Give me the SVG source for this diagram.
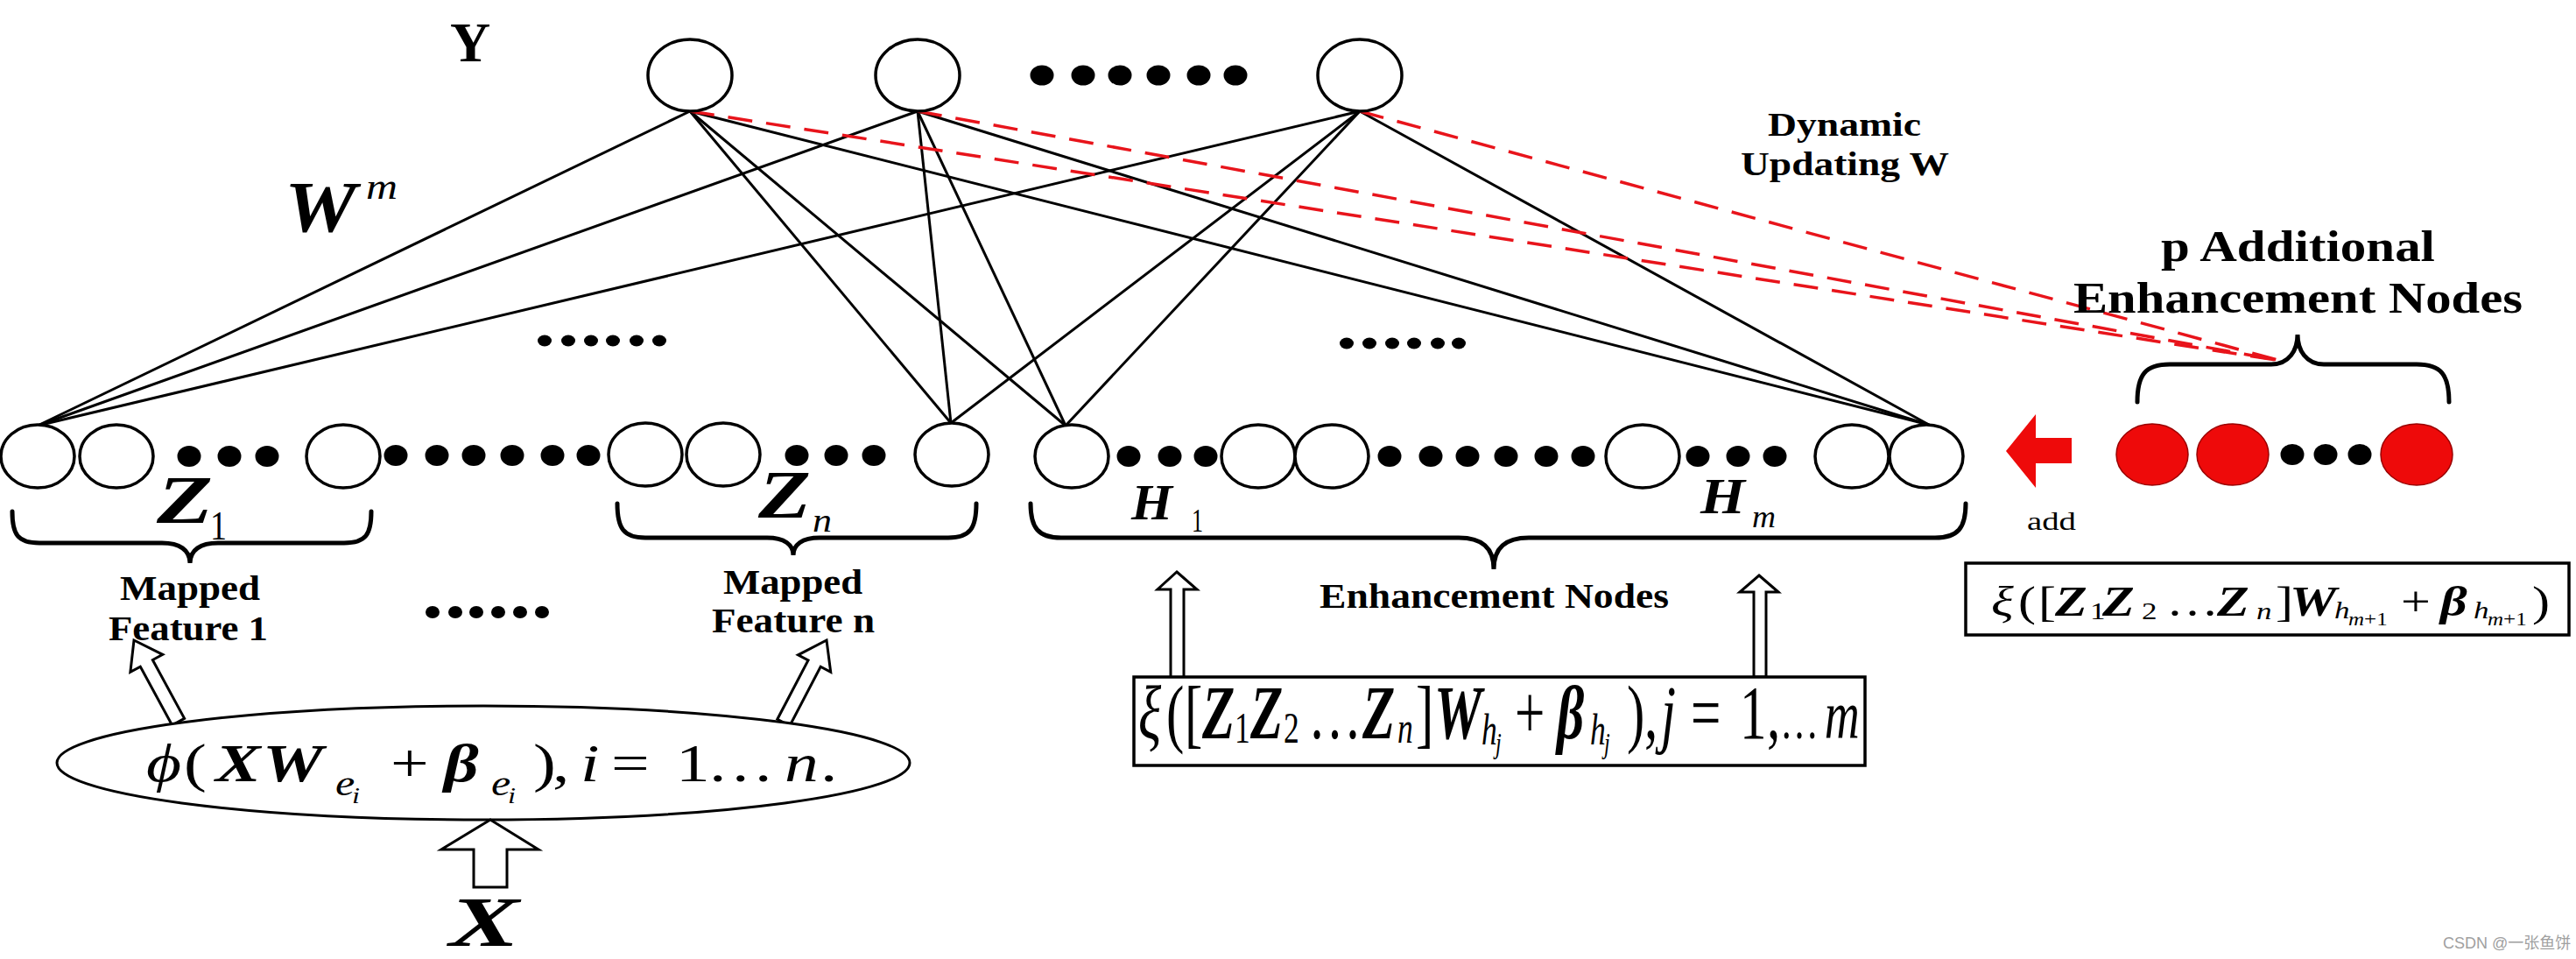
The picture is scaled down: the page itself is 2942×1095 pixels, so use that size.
<svg xmlns="http://www.w3.org/2000/svg" width="2942" height="1095" viewBox="0 0 2942 1095">
<style>
.n{fill:#fff;stroke:#000;stroke-width:3.5}
.r{fill:#ee0a0a;stroke:#9a0000;stroke-width:1.5}
.d{fill:#000}
.e{stroke:#000;stroke-width:3;fill:none}
.dash{stroke:#e8141b;stroke-width:3.5;stroke-dasharray:28 16;fill:none}
.br{fill:none;stroke:#000;stroke-width:5;stroke-linecap:round}
.hol{fill:#fff;stroke:#000;stroke-width:3;stroke-linejoin:miter}
text{font-family:"Liberation Serif","Times New Roman",serif;fill:#000}
.b{font-weight:bold}
.i{font-style:italic}
.bi{font-weight:bold;font-style:italic}
</style>

<g id="connectors">
<line class="e" x1="788" y1="127" x2="43" y2="486"/>
<line class="e" x1="1048" y1="127" x2="43" y2="486"/>
<line class="e" x1="1553" y1="127" x2="43" y2="486"/>
<line class="e" x1="788" y1="127" x2="1086" y2="483"/>
<line class="e" x1="1048" y1="127" x2="1086" y2="483"/>
<line class="e" x1="1553" y1="127" x2="1086" y2="483"/>
<line class="e" x1="788" y1="127" x2="1217" y2="486"/>
<line class="e" x1="1048" y1="127" x2="1217" y2="486"/>
<line class="e" x1="1553" y1="127" x2="1217" y2="486"/>
<line class="e" x1="788" y1="127" x2="2203" y2="485"/>
<line class="e" x1="1048" y1="127" x2="2203" y2="485"/>
<line class="e" x1="1553" y1="127" x2="2203" y2="485"/>
<line class="dash" x1="788" y1="127" x2="2605" y2="412"/>
<line class="dash" x1="1048" y1="127" x2="2605" y2="412"/>
<line class="dash" x1="1553" y1="127" x2="2605" y2="412"/>
</g>

<g id="output-nodes">
<ellipse class="n" cx="788" cy="86" rx="48" ry="41"/>
<ellipse class="n" cx="1048" cy="86" rx="48" ry="41"/>
<ellipse class="n" cx="1553" cy="86" rx="48" ry="41"/>
<ellipse class="d" cx="1190" cy="86" rx="13.5" ry="11.5"/>
<ellipse class="d" cx="1237" cy="86" rx="13.5" ry="11.5"/>
<ellipse class="d" cx="1279" cy="86" rx="13.5" ry="11.5"/>
<ellipse class="d" cx="1323" cy="86" rx="13.5" ry="11.5"/>
<ellipse class="d" cx="1369" cy="86" rx="13.5" ry="11.5"/>
<ellipse class="d" cx="1411" cy="86" rx="13.5" ry="11.5"/>
<text class="b" x="537" y="70" font-size="64" text-anchor="middle">Y</text>
</g>

<g id="weights-label">
<text class="bi" x="325" y="264" font-size="82" textLength="82" lengthAdjust="spacingAndGlyphs">W</text>
<text class="i" x="418" y="227" font-size="42" textLength="36" lengthAdjust="spacingAndGlyphs">m</text>
</g>

<g id="mid-dots">
<ellipse class="d" cx="622" cy="389" rx="8" ry="6.5"/>
<ellipse class="d" cx="649" cy="389" rx="8" ry="6.5"/>
<ellipse class="d" cx="675" cy="389" rx="8" ry="6.5"/>
<ellipse class="d" cx="700" cy="389" rx="8" ry="6.5"/>
<ellipse class="d" cx="727" cy="389" rx="8" ry="6.5"/>
<ellipse class="d" cx="753" cy="389" rx="8" ry="6.5"/>
<ellipse class="d" cx="1538" cy="392" rx="8" ry="6.5"/>
<ellipse class="d" cx="1564" cy="392" rx="8" ry="6.5"/>
<ellipse class="d" cx="1590" cy="392" rx="8" ry="6.5"/>
<ellipse class="d" cx="1615" cy="392" rx="8" ry="6.5"/>
<ellipse class="d" cx="1642" cy="392" rx="8" ry="6.5"/>
<ellipse class="d" cx="1666" cy="392" rx="8" ry="6.5"/>
</g>

<g id="mapped-feature-nodes">
<ellipse class="n" cx="43" cy="521" rx="42" ry="36"/>
<ellipse class="n" cx="133" cy="521" rx="42" ry="36"/>
<ellipse class="d" cx="216" cy="521" rx="13.5" ry="12"/>
<ellipse class="d" cx="262" cy="521" rx="13.5" ry="12"/>
<ellipse class="d" cx="305" cy="521" rx="13.5" ry="12"/>
<ellipse class="n" cx="392" cy="521" rx="42" ry="36"/>
<ellipse class="d" cx="452" cy="520" rx="13.5" ry="12"/>
<ellipse class="d" cx="499" cy="520" rx="13.5" ry="12"/>
<ellipse class="d" cx="541" cy="520" rx="13.5" ry="12"/>
<ellipse class="d" cx="585" cy="520" rx="13.5" ry="12"/>
<ellipse class="d" cx="631" cy="520" rx="13.5" ry="12"/>
<ellipse class="d" cx="672" cy="520" rx="13.5" ry="12"/>
<ellipse class="n" cx="737" cy="519" rx="42" ry="36"/>
<ellipse class="n" cx="826" cy="519" rx="42" ry="36"/>
<ellipse class="d" cx="910" cy="520" rx="13.5" ry="12"/>
<ellipse class="d" cx="955" cy="520" rx="13.5" ry="12"/>
<ellipse class="d" cx="998" cy="520" rx="13.5" ry="12"/>
<ellipse class="n" cx="1087" cy="519" rx="42" ry="36"/>
<path class="br" d="M14,584 C14,610 20,620 45,620 L185,620 C205,620 217,628 217,643 C217,628 229,620 249,620 L393,620 C418,620 424,610 424,584"/>
<path class="br" d="M705,575 C705,603 712,614 737,614 L876,614 C896,614 906,622 906,634 C906,622 916,614 936,614 L1083,614 C1108,614 1115,603 1115,575"/>
<text class="bi" x="179" y="597" font-size="78" textLength="64" lengthAdjust="spacingAndGlyphs">Z</text>
<text x="240" y="616" font-size="46" textLength="19" lengthAdjust="spacingAndGlyphs">1</text>
<text class="bi" x="866" y="591" font-size="78" textLength="60" lengthAdjust="spacingAndGlyphs">Z</text>
<text class="i" x="928" y="607" font-size="38" textLength="22" lengthAdjust="spacingAndGlyphs">n</text>
</g>

<g id="enhancement-nodes">
<ellipse class="n" cx="1224" cy="521" rx="42" ry="36"/>
<ellipse class="d" cx="1289" cy="521" rx="13.5" ry="12"/>
<ellipse class="d" cx="1336" cy="521" rx="13.5" ry="12"/>
<ellipse class="d" cx="1377" cy="521" rx="13.5" ry="12"/>
<ellipse class="n" cx="1437" cy="521" rx="42" ry="36"/>
<ellipse class="n" cx="1521" cy="521" rx="42" ry="36"/>
<ellipse class="d" cx="1587" cy="521" rx="13.5" ry="12"/>
<ellipse class="d" cx="1634" cy="521" rx="13.5" ry="12"/>
<ellipse class="d" cx="1676" cy="521" rx="13.5" ry="12"/>
<ellipse class="d" cx="1720" cy="521" rx="13.5" ry="12"/>
<ellipse class="d" cx="1766" cy="521" rx="13.5" ry="12"/>
<ellipse class="d" cx="1808" cy="521" rx="13.5" ry="12"/>
<ellipse class="n" cx="1876" cy="521" rx="42" ry="36"/>
<ellipse class="d" cx="1939" cy="521" rx="13.5" ry="12"/>
<ellipse class="d" cx="1985" cy="521" rx="13.5" ry="12"/>
<ellipse class="d" cx="2027" cy="521" rx="13.5" ry="12"/>
<ellipse class="n" cx="2115" cy="521" rx="42" ry="36"/>
<ellipse class="n" cx="2200" cy="521" rx="42" ry="36"/>
<path class="br" d="M1177,575 C1177,603 1186,614 1212,614 L1666,614 C1692,614 1706,625 1706,650 C1706,625 1720,614 1746,614 L2210,614 C2236,614 2245,603 2245,575"/>
<text class="bi" x="1292" y="593" font-size="56" textLength="47" lengthAdjust="spacingAndGlyphs">H</text>
<text x="1361" y="607" font-size="38" textLength="13" lengthAdjust="spacingAndGlyphs">1</text>
<text class="bi" x="1942" y="586" font-size="56" textLength="51" lengthAdjust="spacingAndGlyphs">H</text>
<text class="i" x="2001" y="602" font-size="36" textLength="27" lengthAdjust="spacingAndGlyphs">m</text>
<text class="b" x="1507" y="694" font-size="40" textLength="399" lengthAdjust="spacingAndGlyphs">Enhancement Nodes</text>
</g>

<g id="mapped-labels">
<text class="b" x="137" y="685" font-size="40" textLength="160" lengthAdjust="spacingAndGlyphs">Mapped</text>
<text class="b" x="124" y="731" font-size="40" textLength="182" lengthAdjust="spacingAndGlyphs">Feature 1</text>
<text class="b" x="826" y="678" font-size="40" textLength="159" lengthAdjust="spacingAndGlyphs">Mapped</text>
<text class="b" x="813" y="722" font-size="40" textLength="186" lengthAdjust="spacingAndGlyphs">Feature n</text>
<ellipse class="d" cx="494" cy="699" rx="8" ry="7"/>
<ellipse class="d" cx="520" cy="699" rx="8" ry="7"/>
<ellipse class="d" cx="544" cy="699" rx="8" ry="7"/>
<ellipse class="d" cx="569" cy="699" rx="8" ry="7"/>
<ellipse class="d" cx="594" cy="699" rx="8" ry="7"/>
<ellipse class="d" cx="619" cy="699" rx="8" ry="7"/>
</g>

<g id="mapping-function">
<polygon class="hol" transform="translate(153,731) rotate(-28.5)" points="0,0 21,30 8,30 8,106 -8,106 -8,30 -21,30"/>
<polygon class="hol" transform="translate(944,731) rotate(27.6)" points="0,0 21,30 8,30 8,106 -8,106 -8,30 -21,30"/>
<ellipse class="n" cx="552" cy="871" rx="487" ry="65" style="stroke-width:3"/>
<g transform="translate(167,892) scale(1.25,1)" font-size="62">
<text class="i" x="0" y="0">ϕ</text>
<text x="34.4" y="0">(</text>
<text class="bi" x="63.2" y="0">X</text>
<text class="bi" x="106.4" y="0">W</text>
<text class="i" x="172.8" y="16" font-size="40">e</text>
<text class="i" x="188" y="25" font-size="26">i</text>
<text x="223.2" y="0">+</text>
<text class="bi" x="272" y="0">β</text>
<text class="i" x="315.2" y="16" font-size="40">e</text>
<text class="i" x="330.4" y="25" font-size="26">i</text>
<text x="353.6" y="0">)</text>
<text x="371.2" y="0">,</text>
<text class="i" x="396.8" y="0">i</text>
<text x="424.8" y="0">=</text>
<text x="484" y="0">1</text>
<text x="512" y="0">…</text>
<text class="i" x="583.2" y="0">n</text>
<text x="616" y="0">.</text>
</g>
<polygon class="hol" points="560,936 615,970 579,970 579,1013 541,1013 541,970 504,970"/>
<text class="bi" x="513" y="1080" font-size="80" textLength="80" lengthAdjust="spacingAndGlyphs">X</text>
</g>

<g id="enhancement-function">
<polygon class="hol" points="1344,653 1367,673 1352,673 1352,774 1337,774 1337,673 1322,673"/>
<polygon class="hol" points="2009,657 2031,676 2017,676 2017,773 2003,773 2003,676 1987,676"/>
<rect x="1295" y="773" width="835" height="101" fill="#fff" stroke="#000" stroke-width="3.5"/>
<g transform="translate(1300,843) scale(0.71,1)" font-size="86">
<text class="i" x="0" y="0">ξ</text>
<text x="45.1" y="0">(</text>
<text x="74.6" y="0">[</text>
<text class="bi" x="102.8" y="0">Z</text>
<text x="154.9" y="5" font-size="50">1</text>
<text class="bi" x="180.3" y="0">Z</text>
<text x="233.8" y="5" font-size="50">2</text>
<text x="273.2" y="0">…</text>
<text class="bi" x="360.6" y="0">Z</text>
<text class="i" x="416.9" y="5" font-size="50">n</text>
<text x="446.5" y="0">]</text>
<text class="bi" x="476.1" y="0">W</text>
<text class="i" x="552.1" y="7" font-size="50">h</text>
<text class="i" x="574.6" y="17" font-size="34">j</text>
<text x="605.6" y="0">+</text>
<text class="bi" x="673.2" y="0">β</text>
<text class="i" x="726.8" y="7" font-size="50">h</text>
<text class="i" x="749.3" y="17" font-size="34">j</text>
<text x="785.9" y="0">)</text>
<text x="814.1" y="0">,</text>
<text class="i" x="840.8" y="0">j</text>
<text x="888.7" y="0">=</text>
<text x="967.6" y="0">1</text>
<text x="1011.3" y="0">,</text>
<text x="1032.4" y="0" font-size="62">…</text>
<text class="i" x="1104" y="0" font-size="78">m</text>
</g>
</g>

<g id="additional-nodes">
<polygon fill="#ee0a0a" points="2291,515 2325,473 2325,500 2366,500 2366,529 2325,529 2325,557"/>
<text x="2315" y="605" font-size="30" textLength="56" lengthAdjust="spacingAndGlyphs">add</text>
<ellipse class="r" cx="2458" cy="519" rx="41" ry="35"/>
<ellipse class="r" cx="2550" cy="519" rx="41" ry="35"/>
<ellipse class="d" cx="2618" cy="519" rx="13.5" ry="12"/>
<ellipse class="d" cx="2656" cy="519" rx="13.5" ry="12"/>
<ellipse class="d" cx="2695" cy="519" rx="13.5" ry="12"/>
<ellipse class="r" cx="2760" cy="519" rx="41" ry="35"/>
<path class="br" d="M2441,459 C2441,428 2450,416 2478,416 L2594,416 C2614,416 2624,400 2624,382 C2624,400 2634,416 2654,416 L2760,416 C2788,416 2797,428 2797,459"/>
<text class="b" x="2468" y="298" font-size="50" textLength="313" lengthAdjust="spacingAndGlyphs">p Additional</text>
<text class="b" x="2368" y="357" font-size="50" textLength="513" lengthAdjust="spacingAndGlyphs">Enhancement Nodes</text>
<text class="b" x="2019" y="155" font-size="38" textLength="175" lengthAdjust="spacingAndGlyphs">Dynamic</text>
<text class="b" x="1988" y="200" font-size="38" textLength="238" lengthAdjust="spacingAndGlyphs">Updating W</text>
</g>

<g id="additional-function">
<rect x="2245" y="643" width="689" height="82" fill="#fff" stroke="#000" stroke-width="3.5"/>
<g transform="translate(2274,703) scale(1.25,1)" font-size="48">
<text class="i" x="0" y="0">ξ</text>
<text x="24.8" y="0">(</text>
<text x="43.2" y="0">[</text>
<text class="bi" x="58.4" y="0">Z</text>
<text x="90.4" y="4" font-size="28">1</text>
<text class="bi" x="101.6" y="0">Z</text>
<text x="137.6" y="4" font-size="28">2</text>
<text x="160" y="0">…</text>
<text class="bi" x="206.4" y="0">Z</text>
<text class="i" x="242.4" y="4" font-size="28">n</text>
<text x="260" y="0">]</text>
<text class="bi" x="272.8" y="0">W</text>
<text class="i" x="313.6" y="3" font-size="28">h</text>
<text x="326.4" y="11" font-size="20"><tspan class="i">m</tspan>+1</text>
<text x="374.4" y="0">+</text>
<text class="bi" x="410.4" y="0">β</text>
<text class="i" x="440.8" y="3" font-size="28">h</text>
<text x="453.6" y="11" font-size="20"><tspan class="i">m</tspan>+1</text>
<text x="494.4" y="0">)</text>
</g>
</g>

<text x="2790" y="1083" font-size="18" style="font-family:'Liberation Sans','Noto Sans CJK SC',sans-serif;fill:#a0a0a0">CSDN @一张鱼饼</text>
</svg>
